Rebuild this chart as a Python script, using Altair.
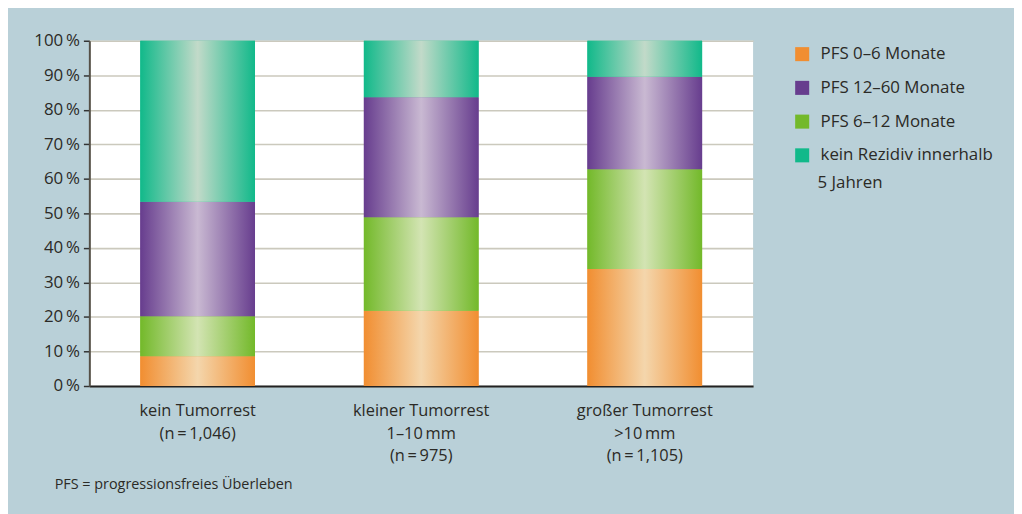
import altair as alt
import pandas as pd

categories = ["kein Tumorrest|(n\u2009=\u20091,046)",
              "kleiner Tumorrest|1–10\u2009mm|(n\u2009=\u2009975)",
              "großer Tumorrest|>10\u2009mm|(n\u2009=\u20091,105)"]
series = ["PFS 0–6 Monate", "PFS 6–12 Monate", "PFS 12–60 Monate",
          "kein Rezidiv innerhalb 5 Jahren"]
legend_order = ["PFS 0–6 Monate", "PFS 12–60 Monate", "PFS 6–12 Monate",
                "kein Rezidiv innerhalb 5 Jahren"]
# percentage per series (stack order bottom -> top), one value per category
pfs_0_6 = [8.6, 21.8, 33.9]
pfs_6_12 = [11.6, 27.1, 28.9]
pfs_12_60 = [33.2, 34.7, 26.8]
kein_rezidiv = [46.6, 16.4, 10.4]
solid = {"PFS 0–6 Monate": "#f18e31", "PFS 6–12 Monate": "#73b92a",
         "PFS 12–60 Monate": "#673d8e", "kein Rezidiv innerhalb 5 Jahren": "#11b98a"}
light = {"PFS 0–6 Monate": "#f4d6ac", "PFS 6–12 Monate": "#d3e4b3",
         "PFS 12–60 Monate": "#c9b9d2", "kein Rezidiv innerhalb 5 Jahren": "#c2dac9"}

values = [pfs_0_6, pfs_6_12, pfs_12_60, kein_rezidiv]
rows = []
for ci, cat in enumerate(categories):
    base = 0.0
    for si, s in enumerate(series):
        v = values[si][ci]
        top = base + v if si < len(series) - 1 else 100.0
        rows.append({"cat": cat, "series": s, "y0": base, "y1": top})
        base = top
df = pd.DataFrame(rows)

FONT = "Open Sans"
TXT = "#2b2a26"

xenc = alt.X("cat:N", sort=categories, title=None,
             scale=alt.Scale(paddingInner=0.487, paddingOuter=0.228),
             axis=alt.Axis(labelExpr="split(datum.label, '|')", labelAngle=0,
                           labelFontSize=16.5, labelColor=TXT, labelFont=FONT,
                           ticks=False, domainColor="#222222", domainWidth=2,
                           labelPadding=17, labelLineHeight=22.5, labelBaseline="top"))
yenc = alt.Y("y0:Q", title=None,
             scale=alt.Scale(domain=[0, 100], nice=False),
             axis=alt.Axis(values=list(range(0, 101, 10)),
                           labelExpr="datum.value + '\u2009%'",
                           labelOverlap=False,
                           labelFontSize=17, labelColor=TXT, labelFont=FONT,
                           tickColor="#333333", tickSize=6, tickWidth=1.5,
                           domainColor="#555047", domainWidth=2,
                           gridColor="#cbc9bd", gridWidth=1.6, labelPadding=4))

legend_layer = alt.Chart(df).mark_bar().encode(
    x=xenc, y=yenc, y2="y1:Q",
    color=alt.Color("series:N", title=None,
                    scale=alt.Scale(domain=legend_order,
                                    range=[solid[s] for s in legend_order]),
                    legend=alt.Legend(orient="none", legendX=710, legendY=5,
                                      symbolType="square", symbolSize=200,
                                      symbolStrokeWidth=0, symbolOpacity=1,
                                      labelFontSize=17, labelColor=TXT, labelFont=FONT,
                                      rowPadding=16, labelOffset=10, labelLimit=300,
                                      labelExpr="datum.label == 'kein Rezidiv innerhalb 5 Jahren' ? 'kein Rezidiv innerhalb' : datum.label"))
)

layers = [legend_layer]
for s in series:
    grad = alt.Gradient(gradient="linear", x1=0, x2=1, y1=0, y2=0,
                        stops=[alt.GradientStop(color=solid[s], offset=0),
                               alt.GradientStop(color=light[s], offset=0.5),
                               alt.GradientStop(color=solid[s], offset=1)])
    layers.append(
        alt.Chart(df).transform_filter(alt.datum.series == s)
        .mark_bar(color=grad).encode(x=xenc, y=yenc, y2="y1:Q")
    )

note = alt.Chart(pd.DataFrame({"t": ["PFS = progressionsfreies Überleben"]})).mark_text(
    align="left", baseline="middle", fontSize=14.5, font=FONT, color=TXT
).encode(text="t:N", x=alt.value(-35), y=alt.value(448))

legend_cont = alt.Chart(pd.DataFrame({"t": ["5 Jahren"]})).mark_text(
    align="left", baseline="middle", fontSize=17, font=FONT, color=TXT
).encode(text="t:N", x=alt.value(734), y=alt.value(143))

chart = alt.layer(*layers, note, legend_cont).properties(
    width=669, height=348,
    autosize=alt.AutoSizeParams(type="none"),
    padding={"left": 82, "top": 31, "right": 263, "bottom": 127},
    background="#b9d0d8",
).configure_view(fill="white", stroke=None)

chart.save("out.html", embed_options={"renderer": "svg", "actions": False})
